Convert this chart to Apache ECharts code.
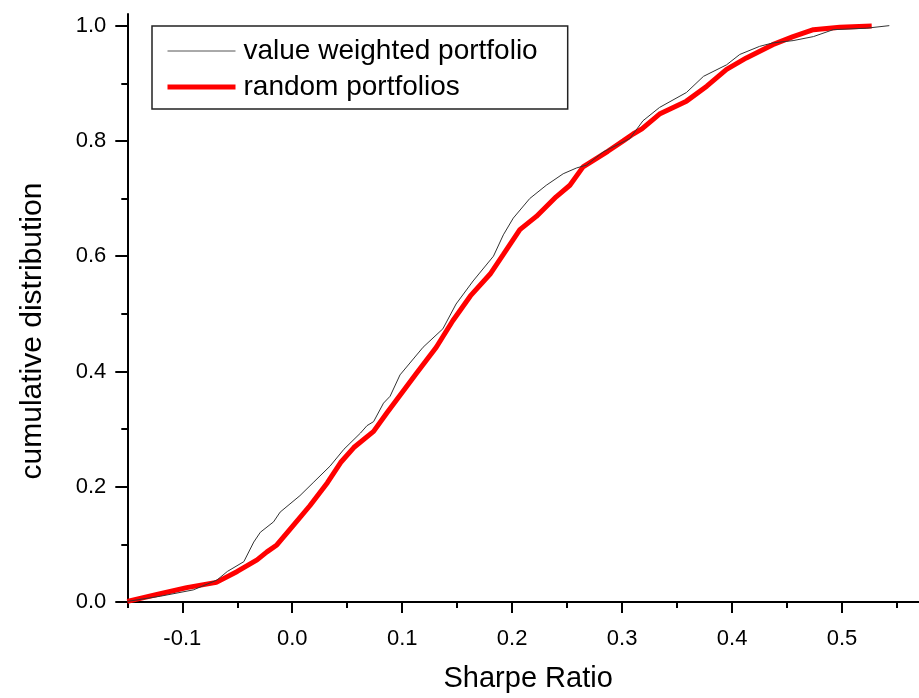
<!DOCTYPE html>
<html>
<head>
<meta charset="utf-8">
<script src="https://cdn.jsdelivr.net/npm/echarts@6/dist/echarts.min.js"></script>
<style>
html,body{margin:0;padding:0;background:#fff;}
#chart{width:919px;height:698px;}
</style>
</head>
<body>
<div id="chart"></div>
<script>
// Tick values
const xMajorTicks = [-0.1, 0.0, 0.1, 0.2, 0.3, 0.4, 0.5];
const xMinorTicks = [-0.15, -0.05, 0.05, 0.15, 0.25, 0.35, 0.45, 0.55];
const yMajorTicks = [0.0, 0.2, 0.4, 0.6, 0.8, 1.0];
const yMinorTicks = [0.1, 0.3, 0.5, 0.7, 0.9];

// Series names
const seriesNames = ['value weighted portfolio', 'random portfolios'];

// value weighted portfolio: [Sharpe ratio, cumulative distribution]
const valueWeighted = [
  [-0.15, 0.001], [-0.12, 0.010], [-0.09, 0.021], [-0.0685, 0.038], [-0.059, 0.053],
  [-0.044, 0.070], [-0.035, 0.104], [-0.029, 0.121], [-0.017, 0.139], [-0.011, 0.156],
  [0.007, 0.1845], [0.019, 0.207], [0.0345, 0.236], [0.047, 0.265], [0.062, 0.293],
  [0.068, 0.306], [0.074, 0.313], [0.083, 0.345], [0.089, 0.357], [0.098, 0.394],
  [0.119, 0.442], [0.137, 0.474], [0.149, 0.517], [0.1645, 0.557], [0.183, 0.600],
  [0.192, 0.637], [0.201, 0.666], [0.216, 0.700], [0.231, 0.723], [0.2464, 0.743],
  [0.2585, 0.753], [0.2676, 0.758], [0.283, 0.781], [0.307, 0.804], [0.319, 0.835],
  [0.334, 0.858], [0.3585, 0.884], [0.374, 0.912], [0.395, 0.932], [0.407, 0.950],
  [0.425, 0.964], [0.437, 0.970], [0.4555, 0.974], [0.474, 0.981], [0.492, 0.993],
  [0.522, 0.9955], [0.543, 1.0]
];

// random portfolios: [Sharpe ratio, cumulative distribution]
const randomPortfolios = [
  [-0.15, 0.001], [-0.123, 0.013], [-0.096, 0.025], [-0.069, 0.034], [-0.05, 0.053],
  [-0.032, 0.073], [-0.023, 0.087], [-0.014, 0.099], [0.001, 0.133], [0.016, 0.167],
  [0.032, 0.207], [0.044, 0.242], [0.056, 0.268], [0.074, 0.296], [0.086, 0.328],
  [0.095, 0.351], [0.113, 0.397], [0.131, 0.442], [0.146, 0.488], [0.162, 0.531],
  [0.180, 0.569], [0.192, 0.603], [0.207, 0.646], [0.222, 0.669], [0.240, 0.703],
  [0.2525, 0.723], [0.2645, 0.755], [0.287, 0.782], [0.301, 0.800], [0.31, 0.812],
  [0.318, 0.821], [0.334, 0.8465], [0.3585, 0.869], [0.377, 0.895], [0.395, 0.924],
  [0.413, 0.944], [0.437, 0.967], [0.4555, 0.981], [0.474, 0.993], [0.498, 0.997],
  [0.527, 0.9994]
];

const FONT = '"Liberation Sans", Arial, sans-serif';
const chart = echarts.init(document.getElementById('chart'), null, {renderer: 'canvas'});

const fmt = v => (Math.abs(v) < 1e-9 ? 0 : v).toFixed(1);

chart.setOption({
  animation: false,
  backgroundColor: '#ffffff',
  textStyle: {fontFamily: FONT, color: '#000'},
  grid: {left: 127.3, top: 14.1, width: 792, height: 593.2, containLabel: false},
  legend: {
    left: 152, top: 26,
    orient: 'vertical',
    data: [
      {name: seriesNames[0], lineStyle: {width: 1, color: '#555'}},
      {name: seriesNames[1], lineStyle: {width: 5, color: '#ff0000'}}
    ],
    itemStyle: {opacity: 0},
    backgroundColor: '#fff',
    borderColor: '#222', borderWidth: 1.5,
    padding: [10, 30, 7, 13],
    itemWidth: 68, itemHeight: 30, itemGap: 6,
    textStyle: {fontFamily: FONT, fontSize: 28, color: '#000', lineHeight: 30, padding: [0, 0, 0, 3]}
  },
  xAxis: [{
    type: 'value', min: -0.15, max: 0.57,
    name: 'Sharpe Ratio', nameLocation: 'middle', nameGap: 62,
    nameTextStyle: {fontFamily: FONT, fontSize: 29, color: '#000', padding: [0, 0, 0, 10]},
    axisLine: {show: true, onZero: false, lineStyle: {color: '#000', width: 2}},
    axisTick: {show: true, inside: false, length: 11, lineStyle: {color: '#000', width: 2}, customValues: xMajorTicks},
    axisLabel: {show: true, margin: 26, fontFamily: FONT, fontSize: 22, color: '#000', customValues: xMajorTicks, formatter: fmt},
    splitLine: {show: false}
  }, {
    type: 'value', min: -0.15, max: 0.57, position: 'bottom', gridIndex: 0,
    axisLine: {show: false, onZero: false},
    axisTick: {show: true, inside: false, length: 6, lineStyle: {color: '#000', width: 2}, customValues: xMinorTicks},
    axisLabel: {show: false},
    splitLine: {show: false}
  }],
  yAxis: [{
    type: 'value', min: 0, max: 1.02,
    name: 'cumulative distribution', nameLocation: 'middle', nameGap: 80, nameRotate: 90,
    nameTextStyle: {fontFamily: FONT, fontSize: 30, color: '#000', padding: [0, 46, 0, 0]},
    axisLine: {show: true, onZero: false, lineStyle: {color: '#000', width: 2}},
    axisTick: {show: true, inside: false, length: 12, lineStyle: {color: '#000', width: 2}, customValues: yMajorTicks},
    axisLabel: {show: true, margin: 21, fontFamily: FONT, fontSize: 22, color: '#000', customValues: yMajorTicks, formatter: fmt},
    splitLine: {show: false}
  }, {
    type: 'value', min: 0, max: 1.02, position: 'left', gridIndex: 0,
    axisLine: {show: false, onZero: false},
    axisTick: {show: true, inside: false, length: 6, lineStyle: {color: '#000', width: 2}, customValues: yMinorTicks},
    axisLabel: {show: false},
    splitLine: {show: false}
  }],
  series: [{
    name: seriesNames[0], type: 'line', xAxisIndex: 0, yAxisIndex: 0,
    data: valueWeighted, showSymbol: false, symbol: 'none', smooth: false,
    lineStyle: {color: '#333', width: 1}, itemStyle: {color: '#333'}, z: 3
  }, {
    name: seriesNames[1], type: 'line', xAxisIndex: 0, yAxisIndex: 0,
    data: randomPortfolios, showSymbol: false, symbol: 'none', smooth: false,
    lineStyle: {color: '#ff0000', width: 5}, itemStyle: {color: '#ff0000'}, z: 2
  }]
});
</script>
</body>
</html>
